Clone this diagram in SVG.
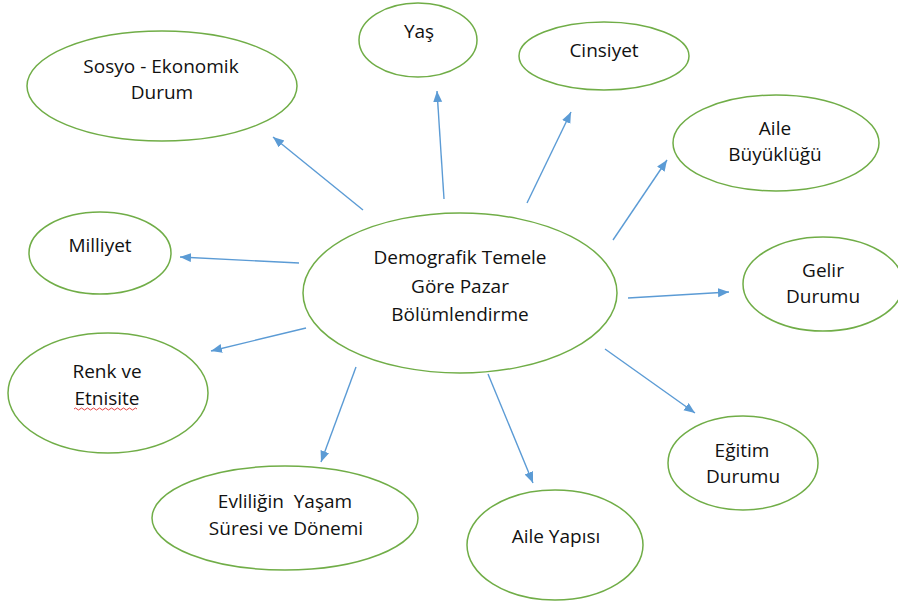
<svg xmlns="http://www.w3.org/2000/svg" width="898" height="606" viewBox="0 0 898 606">
<style>
.n ellipse{fill:#fff;stroke:#70ad47;stroke-width:1.5}
.n text{font-family:"Open Sans","Liberation Sans",sans-serif;font-size:19px;fill:#111;text-anchor:middle}
.c line{stroke:#5b9bd5;stroke-width:1.4;marker-end:url(#ah)}
</style>
<defs>
<marker id="ah" markerUnits="userSpaceOnUse" markerWidth="12" markerHeight="10" refX="11" refY="4.5" orient="auto">
<path d="M0,0 L11,4.5 L0,9 z" fill="#5b9bd5"/>
</marker>
</defs>
<rect width="898" height="606" fill="#fff"/>
<g class="c" id="connectors">
<line x1="363" y1="210" x2="273" y2="137"/>
<line x1="444" y1="199" x2="437" y2="91"/>
<line x1="527" y1="203" x2="571" y2="112"/>
<line x1="613" y1="240" x2="667" y2="160"/>
<line x1="628" y1="298" x2="729" y2="292"/>
<line x1="299" y1="263" x2="180" y2="257"/>
<line x1="306" y1="328" x2="211" y2="351"/>
<line x1="356" y1="367" x2="321" y2="462"/>
<line x1="488" y1="374" x2="533" y2="483"/>
<line x1="605" y1="349" x2="695" y2="413"/>
</g>
<g class="n" id="center">
<ellipse cx="460" cy="293" rx="157" ry="80"/>
<text x="460" y="264">Demografik Temele</text>
<text x="460" y="293">Göre Pazar</text>
<text x="460" y="321">Bölümlendirme</text>
</g>
<g class="n" id="sosyo">
<ellipse cx="162" cy="86" rx="135" ry="55"/>
<text x="161" y="73">Sosyo - Ekonomik</text>
<text x="162" y="99">Durum</text>
</g>
<g class="n" id="yas">
<ellipse cx="418" cy="40" rx="59" ry="37"/>
<text x="419" y="38">Yaş</text>
</g>
<g class="n" id="cinsiyet">
<ellipse cx="604" cy="56" rx="85" ry="34"/>
<text x="604" y="57">Cinsiyet</text>
</g>
<g class="n" id="aile-buyuklugu">
<ellipse cx="776" cy="143" rx="103" ry="48"/>
<text x="775" y="135">Aile</text>
<text x="775" y="161">Büyüklüğü</text>
</g>
<g class="n" id="gelir">
<ellipse cx="823" cy="284" rx="80" ry="47"/>
<text x="823" y="277">Gelir</text>
<text x="823" y="303">Durumu</text>
</g>
<g class="n" id="milliyet">
<ellipse cx="100" cy="253" rx="71" ry="41"/>
<text x="100" y="252">Milliyet</text>
</g>
<g class="n" id="renk">
<ellipse cx="108" cy="393" rx="100" ry="60"/>
<text x="107" y="378">Renk ve</text>
<text x="107" y="405">Etnisite</text>
<path d="M74,409 q1.5,-2 3,0 t3,0 t3,0 t3,0 t3,0 t3,0 t3,0 t3,0 t3,0 t3,0 t3,0 t3,0 t3,0 t3,0 t3,0 t3,0 t3,0 t3,0 t3,0 t3,0 t3,0" fill="none" stroke="#e03030" stroke-width="0.9"/>
</g>
<g class="n" id="evlilik">
<ellipse cx="285" cy="518" rx="133" ry="52"/>
<text x="285" y="508" style="white-space:pre">Evliliğin  Yaşam</text>
<text x="286" y="535">Süresi ve Dönemi</text>
</g>
<g class="n" id="aile-yapisi">
<ellipse cx="555" cy="545" rx="88" ry="55"/>
<text x="556" y="543">Aile Yapısı</text>
</g>
<g class="n" id="egitim">
<ellipse cx="743" cy="463" rx="75" ry="47"/>
<text x="742" y="457">Eğitim</text>
<text x="743" y="483">Durumu</text>
</g>
</svg>
